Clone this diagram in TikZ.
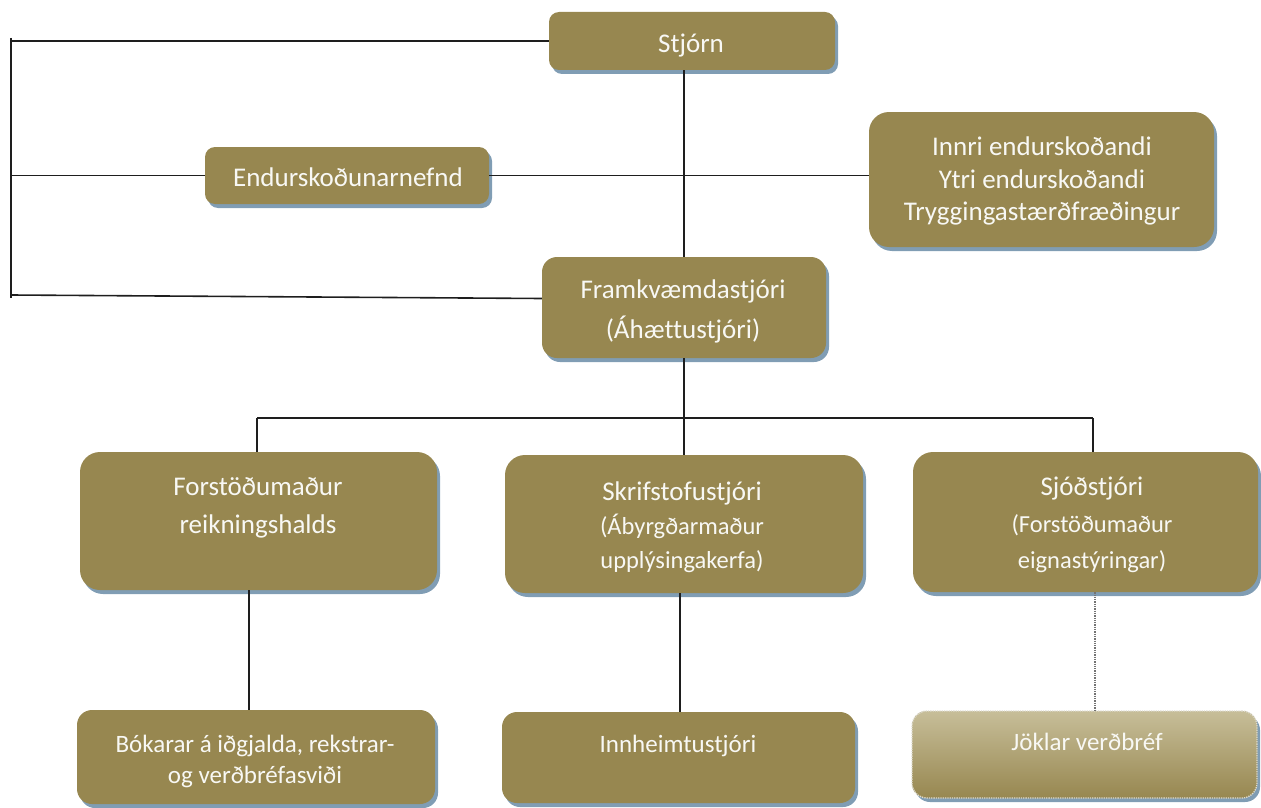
\documentclass[tikz,border=0pt]{standalone}
\usepackage{fontspec}
\setmainfont{Carlito}[Ligatures=CommonOff]
\usetikzlibrary{fit,shadows}
\definecolor{boxc}{RGB}{151,135,80}
\definecolor{shc}{RGB}{128,157,180}
\definecolor{txc}{RGB}{248,248,244}
\definecolor{jtop}{RGB}{199,190,153}
\definecolor{jmid}{RGB}{186,175,132}
\definecolor{dotc}{RGB}{222,220,208}
\definecolor{linec}{RGB}{30,30,30}
\begin{document}
\begin{tikzpicture}[x=1pt,y=-1pt,
  orgbox/.style={rounded corners=#1, fill=boxc, inner sep=0pt,
    drop shadow={shadow xshift=3pt, shadow yshift=-4pt, fill=shc, opacity=1}},
  bigtxt/.style={text=txc, font=\fontsize{27}{30}\selectfont, anchor=base, inner sep=0pt},
  midtxt/.style={text=txc, font=\fontsize{25}{28}\selectfont, anchor=base, inner sep=0pt},
  smalltxt/.style={text=txc, font=\fontsize{24.5}{28}\selectfont, anchor=base, inner sep=0pt},
  conn/.style={draw=linec, line width=1.6pt},
  dotconn/.style={draw=black!55, line width=1.3pt, densely dotted}]
\useasboundingbox (0,0) rectangle (1261,808);

% boxes
\node[orgbox=10pt, fit={(549,12) (835,70)}] (nstj) {};
\node[orgbox=10pt, fit={(205,147) (489,204)}] (nend) {};
\node[orgbox=20pt, fit={(869,112) (1214,247)}] (ninn) {};
\node[orgbox=15pt, fit={(542,257) (826,358)}] (nfr) {};
\node[orgbox=20pt, fit={(80,452) (437,590)}] (nfor) {};
\node[orgbox=20pt, fit={(505,455) (863,593)}] (nskr) {};
\node[orgbox=20pt, fit={(913,452) (1258,592)}] (nsj) {};
\node[orgbox=15pt, fit={(77,710) (435,804)}] (nbok) {};
\node[orgbox=15pt, fit={(502,712) (855,803)}] (ninh) {};
\node[orgbox=15pt, fit={(912,711) (1257,798)}, top color=jtop, middle color=jmid, bottom color=boxc,
      draw=dotc, densely dotted, line width=1.3pt] (njok) {};

% texts
\node[bigtxt] (t1) at (691,53) {Stjórn};
\node[bigtxt] (t2) at (348,186) {Endurskoðunarnefnd};
\node[bigtxt] (t3) at (1042,155) {Innri endurskoðandi};
\node[bigtxt] (t4) at (1042,188) {Ytri endurskoðandi};
\node[bigtxt] (t5) at (1042,220) {Tryggingastærðfræðingur};
\node[bigtxt] (t6) at (683,298) {Framkvæmdastjóri};
\node[bigtxt] (t7) at (683,338) {(Áhættustjóri)};
\node[bigtxt] (t8) at (258,495) {Forstöðumaður};
\node[bigtxt] (t9) at (258,533) {reikningshalds};
\node[bigtxt] (t10) at (682,500) {Skrifstofustjóri};
\node[smalltxt] (t11) at (682,534) {(Ábyrgðarmaður};
\node[smalltxt] (t12) at (682,568) {upplýsingakerfa)};
\node[bigtxt] (t13) at (1092,495) {Sjóðstjóri};
\node[smalltxt] (t14) at (1092,532) {(Forstöðumaður};
\node[smalltxt] (t15) at (1092,568) {eignastýringar)};
\node[midtxt] (t16) at (255,752) {Bókarar á iðgjalda, rekstrar-};
\node[midtxt] (t17) at (255,783) {og verðbréfasviði};
\node[midtxt] (t18) at (678,752) {Innheimtustjóri};
\node[midtxt] (t19) at (1087,750) {Jöklar verðbréf};

% connector coordinates
\coordinate (ltop) at (11,38);
\coordinate (lbot) at (11,298);
\coordinate (lb2) at (11,295);
\coordinate (vx) at (684,0);
\coordinate (bl) at (257,418);
\coordinate (br) at (1093,418);
\coordinate (c1) at (249,0);
\coordinate (c2) at (680,0);
\coordinate (c3) at (1095,0);

% connectors
\draw[conn] (ltop) -- (lbot);
\draw[conn] (ltop |- nstj.west) -- (nstj.west);
\draw[conn] (ltop |- nend.west) -- (nend.west);
\draw[conn] (nend.east) -- (nend.east -| ninn.west);
\draw[conn] (lb2) -- ([yshift=9pt]nfr.west);
\draw[conn] (vx |- nstj.south) -- (vx |- nfr.north);
\draw[conn] (vx |- nfr.south) -- (vx |- nskr.north);
\draw[conn] (bl) -- (br);
\draw[conn] (bl) -- (bl |- nfor.north);
\draw[conn] (br) -- (br |- nsj.north);
\draw[conn] (c1 |- nfor.south) -- (c1 |- nbok.north);
\draw[conn] (c2 |- nskr.south) -- (c2 |- ninh.north);
\draw[dotconn] (c3 |- nsj.south) -- (c3 |- njok.north);
\end{tikzpicture}
\end{document}
